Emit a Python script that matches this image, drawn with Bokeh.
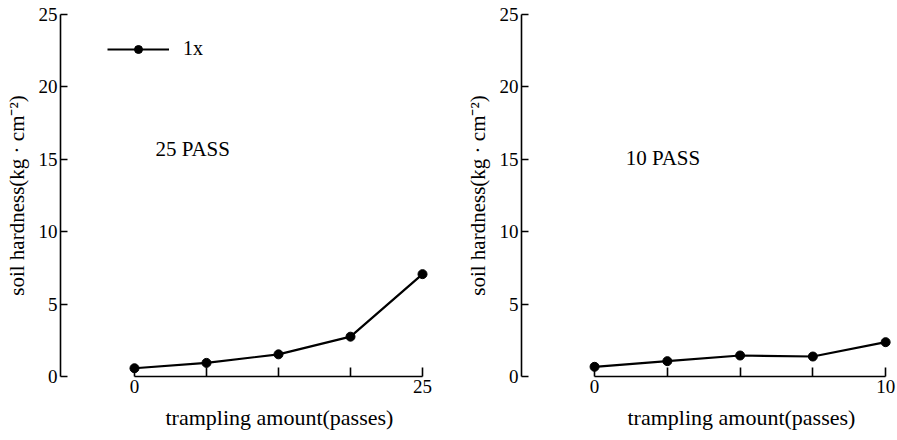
from bokeh.plotting import figure
from bokeh.layouts import row
from bokeh.models import FixedTicker, Legend, LegendItem, Label, Range1d, Title
from bokeh.embed import file_html
from bokeh.resources import INLINE

# ---- data ----
passes_25 = [0, 6.25, 12.5, 18.75, 25]
hardness_25 = [0.57, 0.94, 1.53, 2.75, 7.07]
passes_10 = [0, 2.5, 5, 7.5, 10]
hardness_10 = [0.67, 1.06, 1.45, 1.38, 2.37]
y_ticks = [0, 5, 10, 15, 20, 25]
x_labels_25 = {0: "0", 25: "25"}
x_labels_10 = {0: "0", 10: "10"}
panel_titles = ["25 PASS", "10 PASS"]
legend_label = "1x"
x_title = "trampling amount(passes)"
y_title = "soil hardness(kg · cm⁻²)"

FONT = "Liberation Serif"


def make_panel(xs, ys, xticks, xlab, x_range, width, border_left, border_right,
               title, title_pos, xtitle_offset, with_legend):
    p = figure(width=width, height=440, output_backend="svg", toolbar_location=None,
               x_range=Range1d(*x_range), y_range=Range1d(0, 25),
               min_border_left=border_left, min_border_right=border_right,
               min_border_top=14, min_border_bottom=64)
    p.outline_line_color = None
    p.xgrid.visible = False
    p.ygrid.visible = False

    # x axis
    xa = p.xaxis[0]
    xa.ticker = FixedTicker(ticks=xticks)
    overrides = {}
    for t in xticks:
        overrides[t] = xlab.get(t, "")
    xa.major_label_overrides = overrides
    xa.bounds = (xticks[0], xticks[-1])
    xa.minor_tick_line_color = None
    xa.major_tick_in = 9
    xa.major_tick_out = 0
    xa.axis_line_width = 1.6
    xa.major_tick_line_width = 1.6
    xa.axis_line_color = "black"
    xa.major_tick_line_color = "black"
    xa.major_label_text_font = FONT
    xa.major_label_text_font_size = "19px"
    xa.major_label_text_color = "black"
    xa.major_label_standoff = 3

    # x title, centred under the axis span as in the original
    p.add_layout(Title(text=x_title, align="left", offset=xtitle_offset,
                       text_font=FONT, text_font_size="22px",
                       text_font_style="normal", text_color="black",
                       standoff=14), "below")

    # y axis
    ya = p.yaxis[0]
    ya.ticker = FixedTicker(ticks=y_ticks)
    ya.bounds = (0, 25)
    ya.minor_tick_line_color = None
    ya.major_tick_in = 7
    ya.major_tick_out = 0
    ya.axis_line_width = 1.6
    ya.major_tick_line_width = 1.6
    ya.axis_line_color = "black"
    ya.major_tick_line_color = "black"
    ya.axis_label = y_title
    ya.axis_label_text_font = FONT
    ya.axis_label_text_font_style = "normal"
    ya.axis_label_text_font_size = "21px"
    ya.axis_label_text_color = "black"
    ya.axis_label_standoff = 7
    ya.major_label_text_font = FONT
    ya.major_label_text_font_size = "19px"
    ya.major_label_text_color = "black"
    ya.major_label_standoff = 3

    ln = p.line(xs, ys, line_color="black", line_width=2.2)
    sc = p.scatter(xs, ys, size=9, fill_color="black", line_color="black")

    p.add_layout(Label(x=title_pos[0], y=title_pos[1], text=title,
                       text_font=FONT, text_font_size="21px",
                       text_baseline="middle", text_color="black"))

    if with_legend:
        leg = Legend(items=[LegendItem(label=legend_label, renderers=[ln, sc])],
                     location=(47, 316), orientation="vertical",
                     glyph_width=62, glyph_height=20, label_height=20,
                     label_standoff=14, padding=0, margin=0, spacing=0,
                     border_line_color=None, background_fill_alpha=0,
                     label_text_font=FONT, label_text_font_size="20px",
                     label_text_color="black")
        p.add_layout(leg)
    return p


left = make_panel(passes_25, hardness_25, passes_25, x_labels_25,
                  (-6.42, 26.56), 448, 60, 8, panel_titles[0], (1.82, 15.68), 105, True)
right = make_panel(passes_10, hardness_10, passes_10, x_labels_10,
                   (-2.51, 10.27), 449, 73, 4, panel_titles[1], (1.07, 15.1), 106, False)

layout = row(left, right, spacing=0)
open("out.html", "w").write(file_html(layout, INLINE))
